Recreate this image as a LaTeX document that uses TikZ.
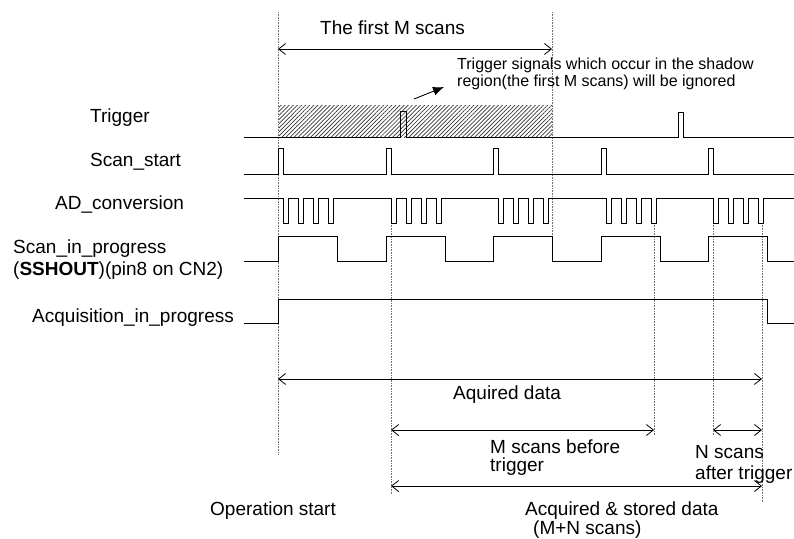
\documentclass[tikz,border=0pt]{standalone}
\usepackage{fontspec}
\setmainfont{Liberation Sans}
\usetikzlibrary{arrows.meta,patterns.meta}
\begin{document}
\begin{tikzpicture}[x=1pt,y=-1pt,
  sig/.style={line width=1pt,black},
  guide/.style={black!55,line width=0.7pt,dash pattern=on 0.8pt off 0.8pt},
  dim/.style={line width=0.8pt,{Straight Barb[length=7pt,width=11pt]}-{Straight Barb[length=7pt,width=11pt]}},
  lbl/.style={font=\fontsize{19}{22}\selectfont,inner sep=0pt,anchor=base west},
  note/.style={font=\fontsize{16}{17}\selectfont,inner sep=0pt,anchor=base west}]
\useasboundingbox (0,0) rectangle (794,538);

% shadow region
\fill[pattern={Lines[angle=45,distance=2.9pt,line width=0.7pt]},pattern color=black!80] (279,105) rectangle (552,137);

% guide lines
\coordinate (gAt) at (278,12);  \coordinate (gAb) at (278,455);
\coordinate (gBt) at (552,12);  \coordinate (gBb) at (552,236);
\coordinate (gCt) at (391,223); \coordinate (gCb) at (391,494);
\coordinate (gDt) at (654,223); \coordinate (gDb) at (654,435);
\coordinate (gEt) at (713,223); \coordinate (gEb) at (713,435);
\coordinate (gFt) at (762,223); \coordinate (gFb) at (762,502);
\foreach \g in {A,B,C,D,E,F} \draw[guide] (g\g t) -- (g\g b);

% labels
\node[lbl] (ltrig) at (90,122) {Trigger};
\node[lbl] (lscan) at (90,166) {Scan\_start};
\node[lbl] (lad) at (55,209) {AD\_conversion};
\node[lbl] (lsip) at (13,253) {Scan\_in\_progress};
\node[lbl] (lsip2) at (13,275) {(\textbf{SSHOUT})(pin8 on CN2)};
\node[lbl] (lacq) at (32,322) {Acquisition\_in\_progress};

% Trigger
\draw[sig] (244,137) -- (400,137) -- (400,111) -- (406,111) -- (406,137) -- (678,137) -- (678,112) -- (683,112) -- (683,137) -- (794,137);

% Scan_start
\draw[sig] (244,174)
  \foreach \s in {278,386,493,601,708} { -- (\s,174) -- (\s,148) -- ({\s+5},148) -- ({\s+5},174) }
  -- (794,174);

% AD_conversion
\draw[sig] (244,198)
  \foreach \s in {278,386,493,601,708} {
    \foreach \k in {0,1,2,3} {
      -- ({\s+5+15*\k},198) -- ({\s+5+15*\k},223) -- ({\s+10+15*\k},223) -- ({\s+10+15*\k},198)
    }
  }
  -- (794,198);

% Scan_in_progress
\draw[sig] (244,261)
  \foreach \s in {278,386,493,601,708} { -- (\s,261) -- (\s,236) -- ({\s+59},236) -- ({\s+59},261) }
  -- (794,261);

% Acquisition_in_progress
\draw[sig] (244,323) -- (278,323) -- (278,299) -- (767,299) -- (767,323) -- (794,323);

% first M scans
\coordinate (fa) at (278,49); \coordinate (fb) at (552,49);
\draw[dim] (fa) -- (fb);
\node[lbl] (tfirst) at (320,34) {The first M scans};

% note
\node[note] (n1) at (457,69) {Trigger signals which occur in the shadow};
\node[note] (n2) at (457,86) {region(the first M scans) will be ignored};
\coordinate (na) at (414,99); \coordinate (nb) at (444,87);
\draw[line width=0.9pt,-{Latex[length=11pt,width=9pt]}] (na) -- (nb);

% bottom dimensions
\coordinate (aa) at (278,379); \coordinate (ab) at (762,379);
\draw[dim] (aa) -- (ab);
\node[lbl] (taq) at (453,399) {Aquired data};

\coordinate (ma) at (391,430); \coordinate (mb) at (654,430);
\draw[dim] (ma) -- (mb);
\node[lbl] (tm1) at (490,453) {M scans before};
\node[lbl] (tm2) at (490,471) {trigger};

\coordinate (na2) at (713,430); \coordinate (nb2) at (762,430);
\draw[dim] (na2) -- (nb2);
\node[lbl] (tn1) at (695,458) {N scans};
\node[lbl] (tn2) at (695,479) {after trigger};

\coordinate (sa) at (391,486); \coordinate (sb) at (762,486);
\draw[dim] (sa) -- (sb);
\node[lbl] (top) at (210,515) {Operation start};
\node[lbl] (ts1) at (525,515) {Acquired \& stored data};
\node[lbl] (ts2) at (533,534) {(M+N scans)};
\end{tikzpicture}
\end{document}
